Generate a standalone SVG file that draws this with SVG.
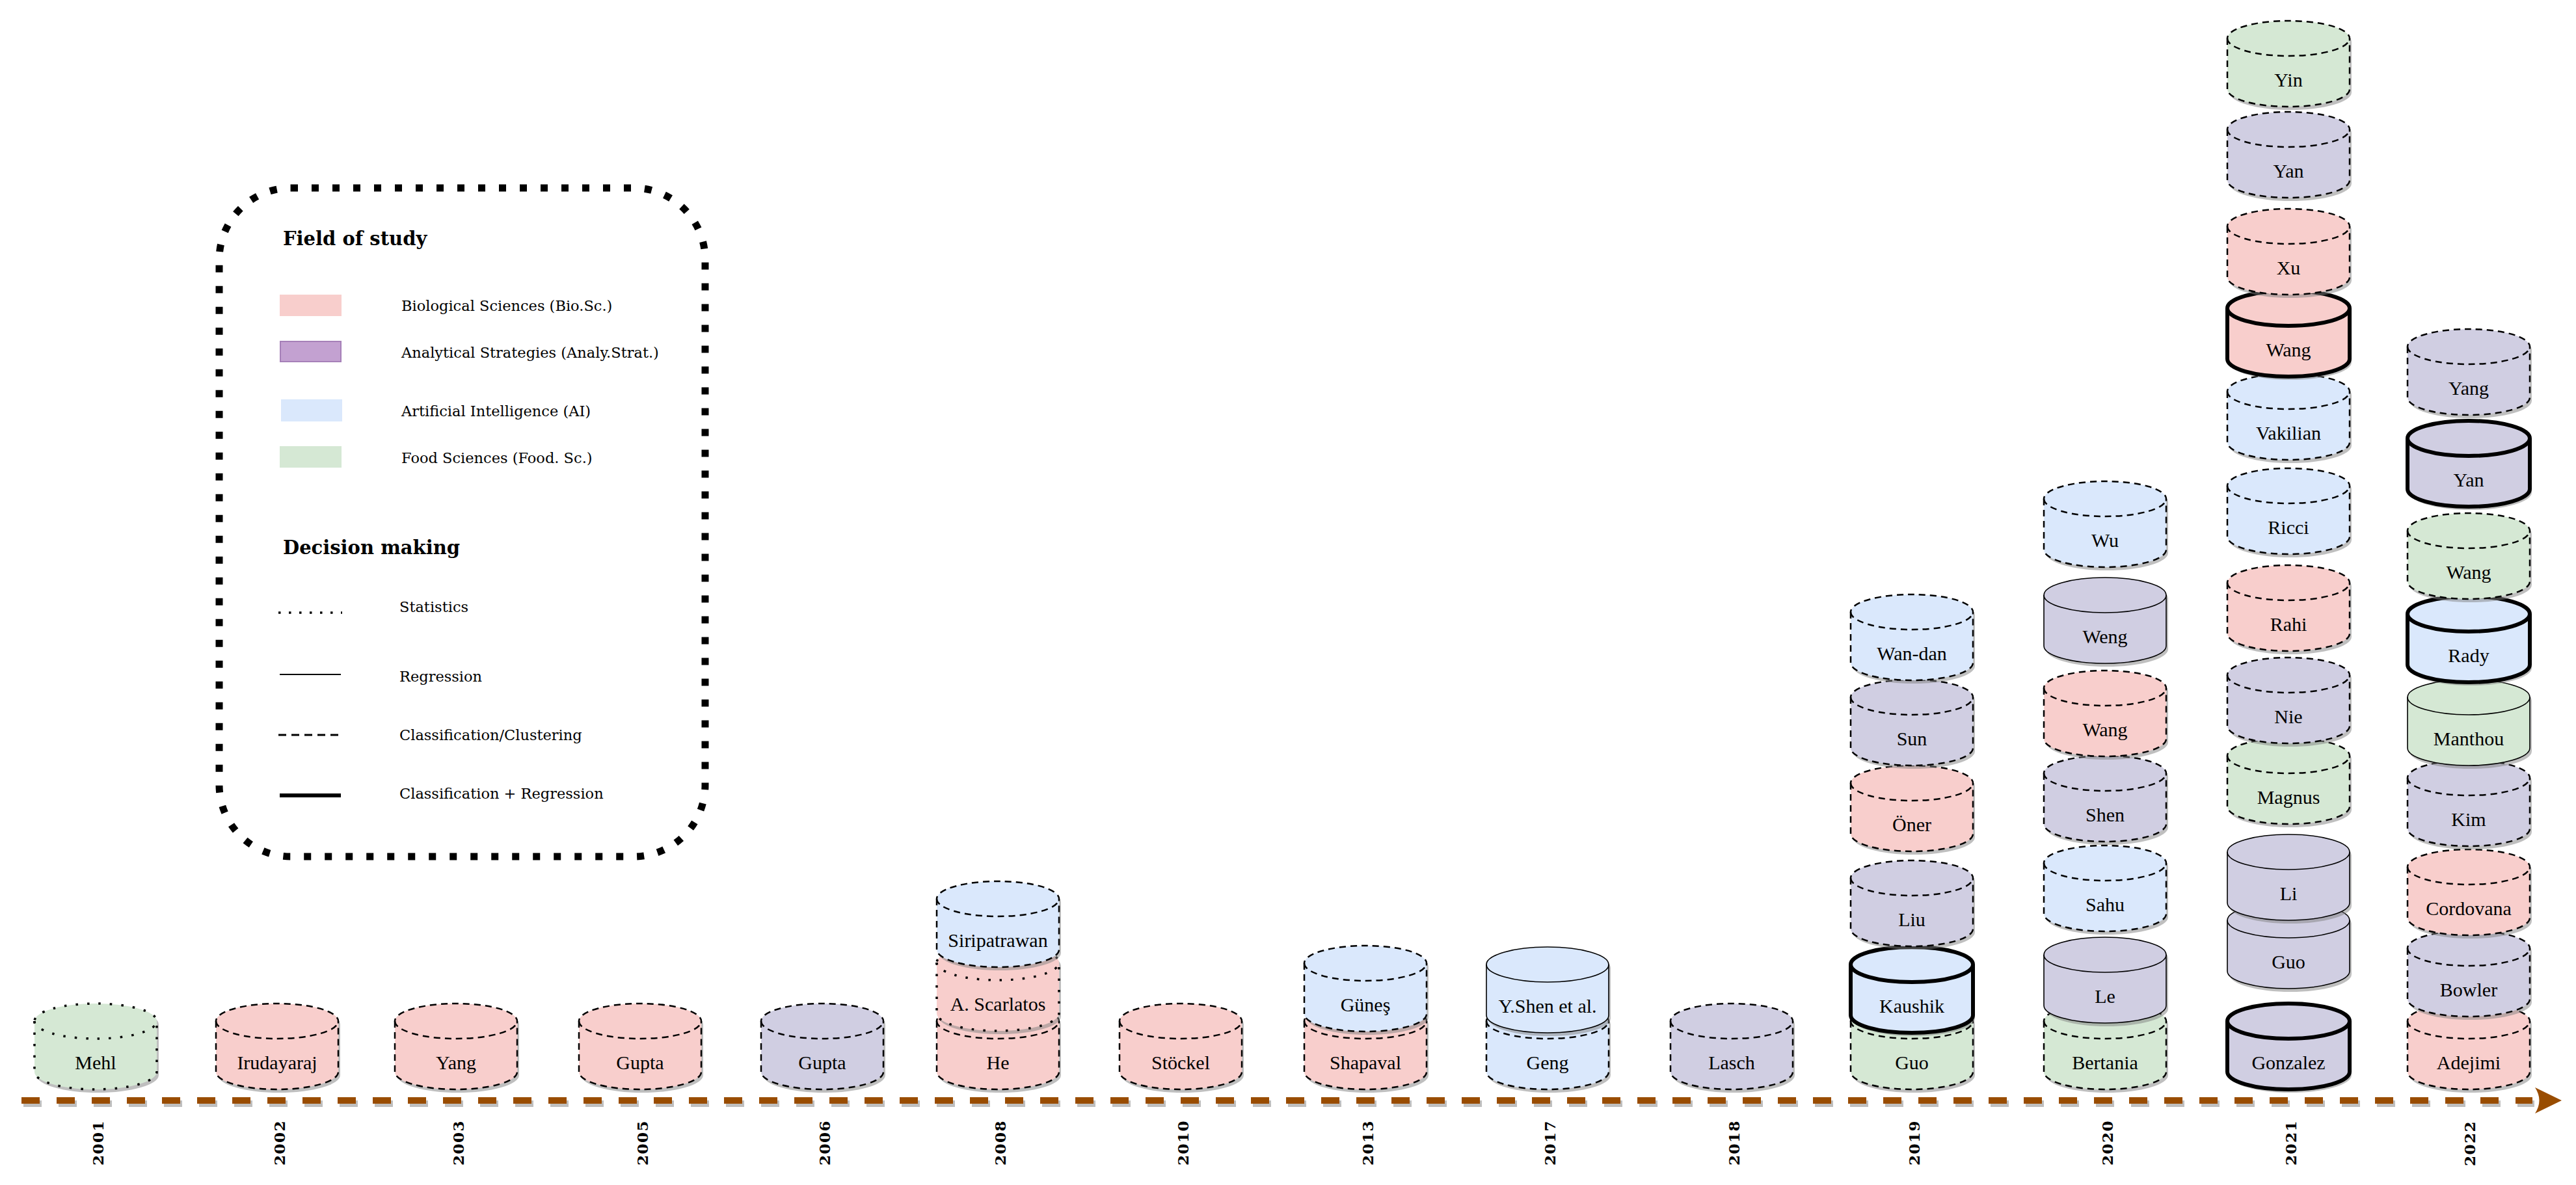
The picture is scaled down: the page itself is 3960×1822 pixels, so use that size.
<svg xmlns="http://www.w3.org/2000/svg" width="3960" height="1822" viewBox="0 0 3960 1822">
<style>
.cyl text{font-family:"Liberation Serif","Times New Roman",serif;font-size:30px;text-anchor:middle;fill:#000}
.sh{fill:#808080;opacity:.5;stroke:none}
.b{stroke:#000}
.r{fill:none;stroke:#000}
.pink>.b{fill:#f8cecc}
.purple>.b{fill:#d0cee2}
.blue>.b{fill:#dae8fc}
.green>.b{fill:#d5e8d4}
.dash>.b,.dash>.r{stroke-width:2.5;stroke-dasharray:10 7}
.dot>.b,.dot>.r{stroke-width:3.5;stroke-dasharray:3.5 14}
.solid>.b,.solid>.r{stroke-width:1.6}
.thick>.b,.thick>.r{stroke-width:6}
.lg{font-family:"DejaVu Serif","Liberation Serif",serif;font-size:22.5px;fill:#000}
.lh{font-family:"DejaVu Serif","Liberation Serif",serif;font-size:29px;font-weight:bold;fill:#000}
.yr{font-family:"DejaVu Serif","Liberation Serif",serif;font-size:23px;font-weight:bold;letter-spacing:1.5px;fill:#000}
</style>
<defs>
<path id="cb" d="M-94,27 L-94,105 A94,27 0 0 0 94,105 L94,27 A94,27 0 0 0 -94,27 Z"/>
<path id="cr" d="M-94,27 A94,27 0 0 0 94,27"/>
</defs>

<g id="legend">
<rect x="337" y="289" width="747" height="1028" rx="110" ry="110" fill="none" stroke="#000" stroke-width="11" stroke-dasharray="11 21"/>
<text class="lh" x="435" y="377">Field of study</text>
<rect x="430" y="453" width="95" height="33" fill="#f8cecc"/>
<text class="lg" x="617" y="478">Biological Sciences (Bio.Sc.)</text>
<rect x="431" y="525" width="93" height="31" fill="#c3a1d1" stroke="#a680b8" stroke-width="2"/>
<text class="lg" x="617" y="550">Analytical Strategies (Analy.Strat.)</text>
<rect x="432" y="614" width="94" height="34" fill="#dae8fc"/>
<text class="lg" x="617" y="640">Artificial Intelligence (AI)</text>
<rect x="430" y="686" width="95" height="33" fill="#d5e8d4"/>
<text class="lg" x="617" y="712">Food Sciences (Food. Sc.)</text>
<text class="lh" x="435" y="852">Decision making</text>
<line x1="428" y1="942" x2="526" y2="942" stroke="#000" stroke-width="3.5" stroke-dasharray="3.5 12.5"/>
<text class="lg" x="614" y="941">Statistics</text>
<line x1="430" y1="1037" x2="524" y2="1037" stroke="#000" stroke-width="2"/>
<text class="lg" x="614" y="1048">Regression</text>
<line x1="428" y1="1130" x2="526" y2="1130" stroke="#000" stroke-width="3" stroke-dasharray="12 8"/>
<text class="lg" x="614" y="1138">Classification/Clustering</text>
<line x1="430" y1="1223" x2="524" y2="1223" stroke="#000" stroke-width="6"/>
<text class="lg" x="614" y="1228">Classification + Regression</text>
</g>

<g id="connectors">
<g id="timeline">
<line x1="36" y1="1697" x2="3896" y2="1697" stroke="#808080" stroke-opacity="0.5" stroke-width="10" stroke-dasharray="28 26"/>
<line x1="33" y1="1692" x2="3893" y2="1692" stroke="#994c00" stroke-width="10" stroke-dasharray="28 26"/>
<path d="M3938,1692 L3897,1672 Q3910,1692 3897,1712 Z" fill="#994c00"/>
</g>
</g>

<g id="years">
<text class="yr" transform="translate(159,1792) rotate(-90)">2001</text>
<text class="yr" transform="translate(438,1792) rotate(-90)">2002</text>
<text class="yr" transform="translate(713,1792) rotate(-90)">2003</text>
<text class="yr" transform="translate(996,1792) rotate(-90)">2005</text>
<text class="yr" transform="translate(1276,1792) rotate(-90)">2006</text>
<text class="yr" transform="translate(1546,1792) rotate(-90)">2008</text>
<text class="yr" transform="translate(1827,1792) rotate(-90)">2010</text>
<text class="yr" transform="translate(2111,1792) rotate(-90)">2013</text>
<text class="yr" transform="translate(2391,1792) rotate(-90)">2017</text>
<text class="yr" transform="translate(2674,1792) rotate(-90)">2018</text>
<text class="yr" transform="translate(2951,1792) rotate(-90)">2019</text>
<text class="yr" transform="translate(3248,1792) rotate(-90)">2020</text>
<text class="yr" transform="translate(3530,1792) rotate(-90)">2021</text>
<text class="yr" transform="translate(3805,1793) rotate(-90)">2022</text>
</g>

<g id="n2001-mehl" class="cyl green dot" transform="translate(147,1543)"><use href="#cb" class="sh" x="3" y="5"/><use href="#cb" class="b"/><use href="#cr" class="r"/><text y="101">Mehl</text></g>
<g id="n2002-irudayaraj" class="cyl pink dash" transform="translate(426,1543)"><use href="#cb" class="sh" x="3" y="5"/><use href="#cb" class="b"/><use href="#cr" class="r"/><text y="101">Irudayaraj</text></g>
<g id="n2003-yang" class="cyl pink dash" transform="translate(701,1543)"><use href="#cb" class="sh" x="3" y="5"/><use href="#cb" class="b"/><use href="#cr" class="r"/><text y="101">Yang</text></g>
<g id="n2005-gupta" class="cyl pink dash" transform="translate(984,1543)"><use href="#cb" class="sh" x="3" y="5"/><use href="#cb" class="b"/><use href="#cr" class="r"/><text y="101">Gupta</text></g>
<g id="n2006-gupta" class="cyl purple dash" transform="translate(1264,1543)"><use href="#cb" class="sh" x="3" y="5"/><use href="#cb" class="b"/><use href="#cr" class="r"/><text y="101">Gupta</text></g>

<g id="n2008-he" class="cyl pink dash" transform="translate(1534,1543)"><use href="#cb" class="sh" x="3" y="5"/><use href="#cb" class="b"/><use href="#cr" class="r"/><text y="101">He</text></g>
<g id="n2008-scarlatos" class="cyl pink dot" transform="translate(1534,1453)"><use href="#cb" class="sh" x="3" y="5"/><use href="#cb" class="b"/><use href="#cr" class="r"/><text y="101">A. Scarlatos</text></g>
<g id="n2008-siripatrawan" class="cyl blue dash" transform="translate(1534,1355)"><use href="#cb" class="sh" x="3" y="5"/><use href="#cb" class="b"/><use href="#cr" class="r"/><text y="101">Siripatrawan</text></g>

<g id="n2010-stockel" class="cyl pink dash" transform="translate(1815,1543)"><use href="#cb" class="sh" x="3" y="5"/><use href="#cb" class="b"/><use href="#cr" class="r"/><text y="101">Stöckel</text></g>

<g id="n2013-shapaval" class="cyl pink dash" transform="translate(2099,1543)"><use href="#cb" class="sh" x="3" y="5"/><use href="#cb" class="b"/><use href="#cr" class="r"/><text y="101">Shapaval</text></g>
<g id="n2013-gunes" class="cyl blue dash" transform="translate(2099,1454)"><use href="#cb" class="sh" x="3" y="5"/><use href="#cb" class="b"/><use href="#cr" class="r"/><text y="101">Güneş</text></g>

<g id="n2017-geng" class="cyl blue dash" transform="translate(2379,1543)"><use href="#cb" class="sh" x="3" y="5"/><use href="#cb" class="b"/><use href="#cr" class="r"/><text y="101">Geng</text></g>
<g id="n2017-shen" class="cyl blue solid" transform="translate(2379,1456)"><use href="#cb" class="sh" x="3" y="5"/><use href="#cb" class="b"/><use href="#cr" class="r"/><text y="101">Y.Shen et al.</text></g>

<g id="n2018-lasch" class="cyl purple dash" transform="translate(2662,1543)"><use href="#cb" class="sh" x="3" y="5"/><use href="#cb" class="b"/><use href="#cr" class="r"/><text y="101">Lasch</text></g>

<g id="n2019-guo" class="cyl green dash" transform="translate(2939,1543)"><use href="#cb" class="sh" x="3" y="5"/><use href="#cb" class="b"/><use href="#cr" class="r"/><text y="101">Guo</text></g>
<g id="n2019-kaushik" class="cyl blue thick" transform="translate(2939,1456)"><use href="#cb" class="sh" x="3" y="5"/><use href="#cb" class="b"/><use href="#cr" class="r"/><text y="101">Kaushik</text></g>
<g id="n2019-liu" class="cyl purple dash" transform="translate(2939,1323)"><use href="#cb" class="sh" x="3" y="5"/><use href="#cb" class="b"/><use href="#cr" class="r"/><text y="101">Liu</text></g>
<g id="n2019-oner" class="cyl pink dash" transform="translate(2939,1177)"><use href="#cb" class="sh" x="3" y="5"/><use href="#cb" class="b"/><use href="#cr" class="r"/><text y="101">Öner</text></g>
<g id="n2019-sun" class="cyl purple dash" transform="translate(2939,1045)"><use href="#cb" class="sh" x="3" y="5"/><use href="#cb" class="b"/><use href="#cr" class="r"/><text y="101">Sun</text></g>
<g id="n2019-wandan" class="cyl blue dash" transform="translate(2939,914)"><use href="#cb" class="sh" x="3" y="5"/><use href="#cb" class="b"/><use href="#cr" class="r"/><text y="101">Wan-dan</text></g>

<g id="n2020-bertania" class="cyl green dash" transform="translate(3236,1543)"><use href="#cb" class="sh" x="3" y="5"/><use href="#cb" class="b"/><use href="#cr" class="r"/><text y="101">Bertania</text></g>
<g id="n2020-le" class="cyl purple solid" transform="translate(3236,1441)"><use href="#cb" class="sh" x="3" y="5"/><use href="#cb" class="b"/><use href="#cr" class="r"/><text y="101">Le</text></g>
<g id="n2020-sahu" class="cyl blue dash" transform="translate(3236,1300)"><use href="#cb" class="sh" x="3" y="5"/><use href="#cb" class="b"/><use href="#cr" class="r"/><text y="101">Sahu</text></g>
<g id="n2020-shen" class="cyl purple dash" transform="translate(3236,1162)"><use href="#cb" class="sh" x="3" y="5"/><use href="#cb" class="b"/><use href="#cr" class="r"/><text y="101">Shen</text></g>
<g id="n2020-wang" class="cyl pink dash" transform="translate(3236,1031)"><use href="#cb" class="sh" x="3" y="5"/><use href="#cb" class="b"/><use href="#cr" class="r"/><text y="101">Wang</text></g>
<g id="n2020-weng" class="cyl purple solid" transform="translate(3236,888)"><use href="#cb" class="sh" x="3" y="5"/><use href="#cb" class="b"/><use href="#cr" class="r"/><text y="101">Weng</text></g>
<g id="n2020-wu" class="cyl blue dash" transform="translate(3236,740)"><use href="#cb" class="sh" x="3" y="5"/><use href="#cb" class="b"/><use href="#cr" class="r"/><text y="101">Wu</text></g>

<g id="n2021-gonzalez" class="cyl purple thick" transform="translate(3518,1543)"><use href="#cb" class="sh" x="3" y="5"/><use href="#cb" class="b"/><use href="#cr" class="r"/><text y="101">Gonzalez</text></g>
<g id="n2021-guo" class="cyl purple solid" transform="translate(3518,1388)"><use href="#cb" class="sh" x="3" y="5"/><use href="#cb" class="b"/><use href="#cr" class="r"/><text y="101">Guo</text></g>
<g id="n2021-li" class="cyl purple solid" transform="translate(3518,1283)"><use href="#cb" class="sh" x="3" y="5"/><use href="#cb" class="b"/><use href="#cr" class="r"/><text y="101">Li</text></g>
<g id="n2021-magnus" class="cyl green dash" transform="translate(3518,1135)"><use href="#cb" class="sh" x="3" y="5"/><use href="#cb" class="b"/><use href="#cr" class="r"/><text y="101">Magnus</text></g>
<g id="n2021-nie" class="cyl purple dash" transform="translate(3518,1011)"><use href="#cb" class="sh" x="3" y="5"/><use href="#cb" class="b"/><use href="#cr" class="r"/><text y="101">Nie</text></g>
<g id="n2021-rahi" class="cyl pink dash" transform="translate(3518,869)"><use href="#cb" class="sh" x="3" y="5"/><use href="#cb" class="b"/><use href="#cr" class="r"/><text y="101">Rahi</text></g>
<g id="n2021-ricci" class="cyl blue dash" transform="translate(3518,720)"><use href="#cb" class="sh" x="3" y="5"/><use href="#cb" class="b"/><use href="#cr" class="r"/><text y="101">Ricci</text></g>
<g id="n2021-vakilian" class="cyl blue dash" transform="translate(3518,575)"><use href="#cb" class="sh" x="3" y="5"/><use href="#cb" class="b"/><use href="#cr" class="r"/><text y="101">Vakilian</text></g>
<g id="n2021-wang" class="cyl pink thick" transform="translate(3518,447)"><use href="#cb" class="sh" x="3" y="5"/><use href="#cb" class="b"/><use href="#cr" class="r"/><text y="101">Wang</text></g>
<g id="n2021-xu" class="cyl pink dash" transform="translate(3518,321)"><use href="#cb" class="sh" x="3" y="5"/><use href="#cb" class="b"/><use href="#cr" class="r"/><text y="101">Xu</text></g>
<g id="n2021-yan" class="cyl purple dash" transform="translate(3518,172)"><use href="#cb" class="sh" x="3" y="5"/><use href="#cb" class="b"/><use href="#cr" class="r"/><text y="101">Yan</text></g>
<g id="n2021-yin" class="cyl green dash" transform="translate(3518,32)"><use href="#cb" class="sh" x="3" y="5"/><use href="#cb" class="b"/><use href="#cr" class="r"/><text y="101">Yin</text></g>

<g id="n2022-adejimi" class="cyl pink dash" transform="translate(3795,1543)"><use href="#cb" class="sh" x="3" y="5"/><use href="#cb" class="b"/><use href="#cr" class="r"/><text y="101">Adejimi</text></g>
<g id="n2022-bowler" class="cyl purple dash" transform="translate(3795,1431)"><use href="#cb" class="sh" x="3" y="5"/><use href="#cb" class="b"/><use href="#cr" class="r"/><text y="101">Bowler</text></g>
<g id="n2022-cordovana" class="cyl pink dash" transform="translate(3795,1306)"><use href="#cb" class="sh" x="3" y="5"/><use href="#cb" class="b"/><use href="#cr" class="r"/><text y="101">Cordovana</text></g>
<g id="n2022-kim" class="cyl purple dash" transform="translate(3795,1169)"><use href="#cb" class="sh" x="3" y="5"/><use href="#cb" class="b"/><use href="#cr" class="r"/><text y="101">Kim</text></g>
<g id="n2022-manthou" class="cyl green solid" transform="translate(3795,1045)"><use href="#cb" class="sh" x="3" y="5"/><use href="#cb" class="b"/><use href="#cr" class="r"/><text y="101">Manthou</text></g>
<g id="n2022-rady" class="cyl blue thick" transform="translate(3795,917)"><use href="#cb" class="sh" x="3" y="5"/><use href="#cb" class="b"/><use href="#cr" class="r"/><text y="101">Rady</text></g>
<g id="n2022-wang" class="cyl green dash" transform="translate(3795,789)"><use href="#cb" class="sh" x="3" y="5"/><use href="#cb" class="b"/><use href="#cr" class="r"/><text y="101">Wang</text></g>
<g id="n2022-yan" class="cyl purple thick" transform="translate(3795,647)"><use href="#cb" class="sh" x="3" y="5"/><use href="#cb" class="b"/><use href="#cr" class="r"/><text y="101">Yan</text></g>
<g id="n2022-yang" class="cyl purple dash" transform="translate(3795,506)"><use href="#cb" class="sh" x="3" y="5"/><use href="#cb" class="b"/><use href="#cr" class="r"/><text y="101">Yang</text></g>
</svg>
